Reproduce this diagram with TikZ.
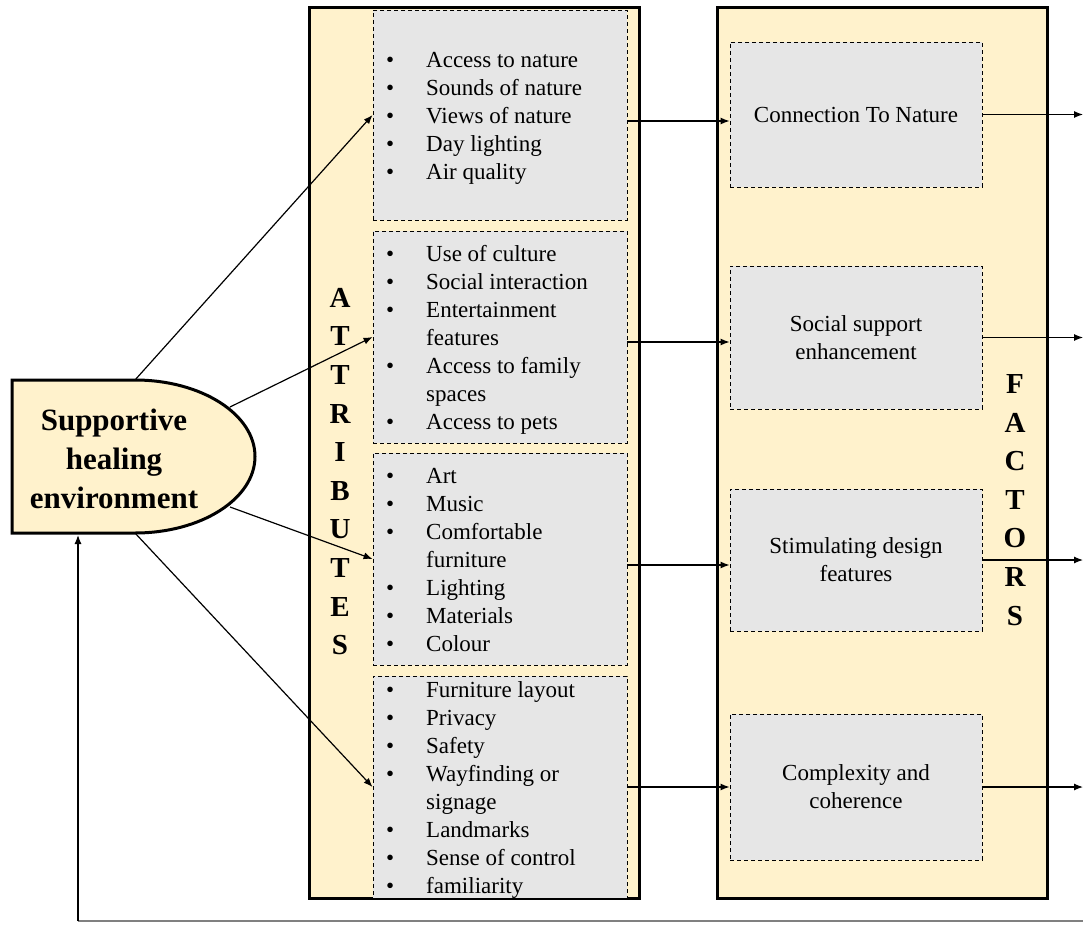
\documentclass[tikz,border=0pt]{standalone}
\usepackage{fontspec}
\setmainfont{Liberation Serif}
\usetikzlibrary{arrows.meta}
\definecolor{cream}{HTML}{FFF2CC}
\definecolor{lgray}{HTML}{E6E6E6}
\begin{document}
\begin{tikzpicture}[x=1pt,y=-1pt,
  outer/.style={draw, line width=3pt, fill=cream, inner sep=0},
  inbox/.style={draw, dash pattern=on 4pt off 3pt, line width=0.9pt, fill=lgray, inner sep=0},
  arr/.style={line width=1.2pt, -{Latex[length=9pt,width=7pt]}},
  blist/.style={font=\fontsize{23}{28}\selectfont, anchor=north west, inner sep=0},
  ftext/.style={font=\fontsize{23}{28}\selectfont, align=center},
  vlet/.style={font=\fontsize{29}{38.6}\selectfont\bfseries, align=center}]
\useasboundingbox (0,0) rectangle (1083,925);
% outer boxes
\node[outer, minimum width=330pt, minimum height=890pt] (attr) at (474,453) {};
\node[outer, minimum width=330pt, minimum height=890pt] (fact) at (882,453) {};
% attribute boxes
\node[inbox, minimum width=254pt, minimum height=210pt] (a1) at (500,115) {};
\node[inbox, minimum width=254pt, minimum height=212pt] (a2) at (500,337) {};
\node[inbox, minimum width=254pt, minimum height=212pt] (a3) at (500,559) {};
\node[inbox, minimum width=254pt, minimum height=222pt] (a4) at (500,787) {};
% factor boxes
\node[inbox, ftext, minimum width=252pt, minimum height=145pt] (f1) at (856,114.5) {Connection To Nature};
\node[inbox, ftext, minimum width=252pt, minimum height=143pt] (f2) at (856,337.5) {Social support\\enhancement};
\node[inbox, ftext, minimum width=252pt, minimum height=142pt] (f3) at (856,560) {Stimulating design\\features};
\node[inbox, ftext, minimum width=252pt, minimum height=146pt] (f4) at (856,787) {Complexity and\\coherence};
% vertical labels
\node[vlet] (attrl) at (340,471.5) {A\\T\\T\\R\\I\\B\\U\\T\\E\\S};
\node[vlet] (factl) at (1015,500) {F\\A\\C\\T\\O\\R\\S};
% lists
\node[blist] (l1) at (386,47.4) {\begin{tabular}{@{}p{40pt}@{}l@{}}
\textbullet & Access to nature\\
\textbullet & Sounds of nature\\
\textbullet & Views of nature\\
\textbullet & Day lighting\\
\textbullet & Air quality
\end{tabular}};
\node[blist] (l2) at (386,241.4) {\begin{tabular}{@{}p{40pt}@{}l@{}}
\textbullet & Use of culture\\
\textbullet & Social interaction\\
\textbullet & Entertainment\\
 & features\\
\textbullet & Access to family\\
 & spaces\\
\textbullet & Access to pets
\end{tabular}};
\node[blist] (l3) at (386,463.4) {\begin{tabular}{@{}p{40pt}@{}l@{}}
\textbullet & Art\\
\textbullet & Music\\
\textbullet & Comfortable\\
 & furniture\\
\textbullet & Lighting\\
\textbullet & Materials\\
\textbullet & Colour
\end{tabular}};
\node[blist] (l4) at (386,677.4) {\begin{tabular}{@{}p{40pt}@{}l@{}}
\textbullet & Furniture layout\\
\textbullet & Privacy\\
\textbullet & Safety\\
\textbullet & Wayfinding or\\
 & signage\\
\textbullet & Landmarks\\
\textbullet & Sense of control\\
\textbullet & familiarity
\end{tabular}};
% left shape
\draw[line width=3pt, fill=cream] (12,380) -- (135,380)
  .. controls (201.3,380) and (255,414.25) .. (255,456.5)
  .. controls (255,498.75) and (201.3,533) .. (135,533) -- (12,533) -- cycle;
\node[font=\fontsize{31}{39}\selectfont\bfseries, align=center] (she) at (114,459) {Supportive\\healing\\environment};
\coordinate (s1) at (135,380);
\coordinate (s2) at (230,407);
\coordinate (s3) at (230,507);
\coordinate (s4) at (135,533);
\draw[arr] (s1) -- (a1.west);
\draw[arr] (s2) -- (a2.west);
\draw[arr] (s3) -- (a3.west);
\draw[arr] (s4) -- (a4.west);
% attribute -> factor
\draw[arr] (a1.east |- 0,121) -- (f1.west |- 0,121);
\draw[arr] (a2.east |- 0,342) -- (f2.west |- 0,342);
\draw[arr] (a3.east |- 0,565) -- (f3.west |- 0,565);
\draw[arr] (a4.east |- 0,787) -- (f4.west |- 0,787);
% outputs
\coordinate (o1) at (1083,114.5);
\coordinate (o2) at (1083,337.5);
\coordinate (o3) at (1083,560);
\coordinate (o4) at (1083,787);
\draw[arr] (f1.east) -- (o1);
\draw[arr] (f2.east) -- (o2);
\draw[arr] (f3.east) -- (o3);
\draw[arr] (f4.east) -- (o4);
% feedback
\coordinate (fb) at (78,921);
\coordinate (fbr) at (1083,921);
\coordinate (fbt) at (78,535);
\draw[line width=1.2pt, gray] (fbr) -- (fb);
\draw[arr] (fb) -- (fbt);
\end{tikzpicture}
\end{document}
